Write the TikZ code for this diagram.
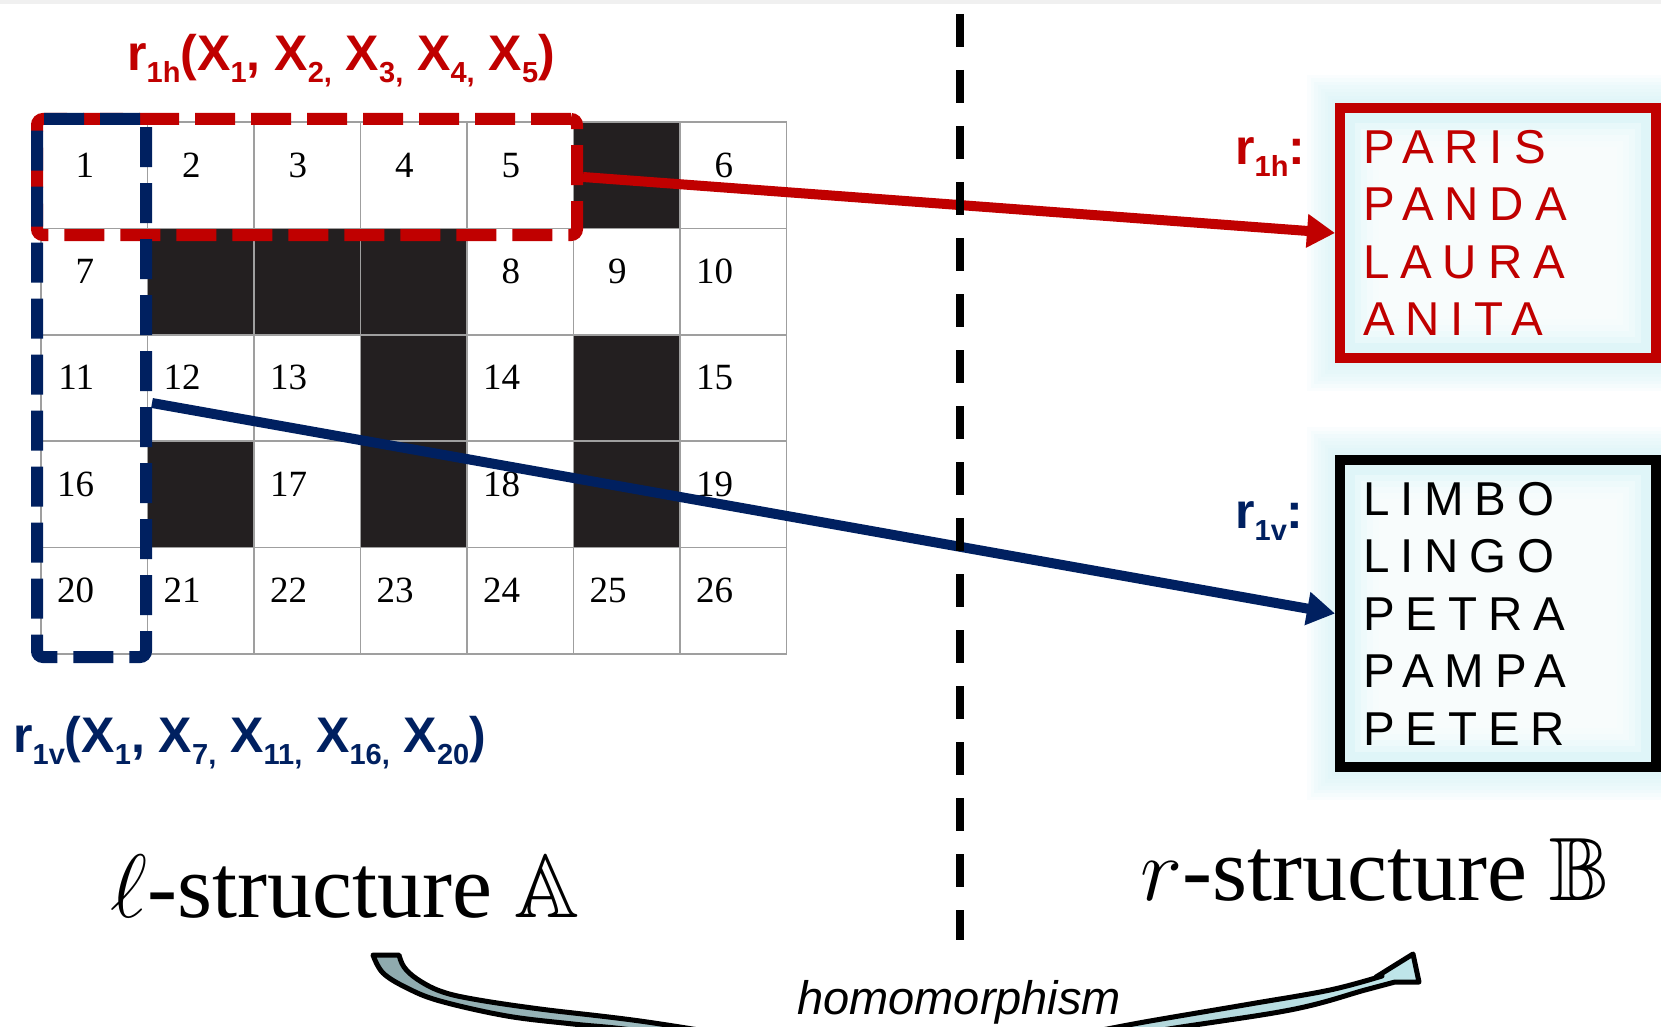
\documentclass[tikz,border=0pt]{standalone}
\usepackage{fontspec}
\setmainfont{Liberation Serif}
\setsansfont{Liberation Sans}
\newfontfamily\wordfont[LetterSpace=23]{Liberation Sans}
\usepackage{amssymb}
\usepackage{anyfontsize}
\definecolor{rowred}{HTML}{C00000}
\definecolor{colblue}{HTML}{002060}
\definecolor{cellblack}{HTML}{231F20}
\definecolor{glowcyan}{HTML}{CDEFF4}
\definecolor{bandgray}{HTML}{8EA9AD}
\definecolor{bandcyan}{HTML}{BFE6EA}
\usetikzlibrary{positioning, calc, backgrounds, arrows.meta}
\newcommand{\lowsub}[1]{\raisebox{-0.24em}{\fontsize{29}{29}\selectfont #1}}
\tikzset{
	gridline/.style={
			draw=gray!75,
			line width=1.5pt
		},
	blackcell/.style={
			fill=cellblack
		},
	numlabel/.style={
			font=\fontsize{37}{37}\selectfont,
			inner sep=0pt,
			anchor=base east
		},
	relname/.style={
			font=\sffamily\bfseries\fontsize{50}{50}\selectfont,
			inner sep=0pt,
			anchor=base west
		},
	rowpick/.style={
			draw=rowred,
			line width=12pt,
			dash pattern=on 40pt off 16pt,
			rounded corners=6pt
		},
	colpick/.style={
			rowpick,
			draw=colblue
		},
	relbox/.style={
			line width=10pt,
			text width=270pt,
			inner xsep=23pt,
			align=left,
			font=\wordfont\fontsize{47.5}{57.5}\selectfont
		},
	relarrow/.style={
			line width=10pt,
			-{Triangle[length=28pt, width=32pt]}
		},
	sepline/.style={
			draw=black,
			line width=8pt,
			dash pattern=on 33pt off 23pt
		},
	structlabel/.style={
			font=\fontsize{90}{90}\selectfont,
			inner sep=0pt,
			anchor=base west
		},
	homarrow/.style={
			draw=black,
			line width=5pt,
			line join=round,
			left color=bandgray,
			right color=bandcyan
		},
	homlabel/.style={
			font=\sffamily\itshape\fontsize{47}{47}\selectfont,
			inner sep=0pt,
			anchor=base west
		}
}

\begin{document}
\begin{tikzpicture}[x=1pt, y=-1pt]
\useasboundingbox (0,0) rectangle (1661,1027);
\fill[black!6] (0,0) rectangle (1661,4);

% crossword grid
\begin{scope}[shift={(41,122)}, x=106.5pt, y=-106.4pt]
\fill[blackcell] (5,0) rectangle (6,1);
\fill[blackcell] (1,1) rectangle (4,2);
\fill[blackcell] (3,2) rectangle (4,4);
\fill[blackcell] (5,2) rectangle (6,4);
\fill[blackcell] (1,3) rectangle (2,4);
\foreach \k in {0,...,7} \draw[gridline] (\k,0) -- (\k,5);
\foreach \k in {0,...,5} \draw[gridline] (0,\k) -- (7,\k);

\node[numlabel] (c1) at (0.5,0.517) {1};
\node[numlabel] (c2) at (1.5,0.517) {2};
\node[numlabel] (c3) at (2.5,0.517) {3};
\node[numlabel] (c4) at (3.5,0.517) {4};
\node[numlabel] (c5) at (4.5,0.517) {5};
\node[numlabel] (c6) at (6.5,0.517) {6};
\node[numlabel] (c7) at (0.5,1.517) {7};
\node[numlabel] (c8) at (4.5,1.517) {8};
\node[numlabel] (c9) at (5.5,1.517) {9};
\node[numlabel] (c10) at (6.5,1.517) {10};
\node[numlabel] (c11) at (0.5,2.517) {11};
\node[numlabel] (c12) at (1.5,2.517) {12};
\node[numlabel] (c13) at (2.5,2.517) {13};
\node[numlabel] (c14) at (4.5,2.517) {14};
\node[numlabel] (c15) at (6.5,2.517) {15};
\node[numlabel] (c16) at (0.5,3.517) {16};
\node[numlabel] (c17) at (2.5,3.517) {17};
\node[numlabel] (c18) at (4.5,3.517) {18};
\node[numlabel] (c19) at (6.5,3.517) {19};
\node[numlabel] (c20) at (0.5,4.517) {20};
\node[numlabel] (c21) at (1.5,4.517) {21};
\node[numlabel] (c22) at (2.5,4.517) {22};
\node[numlabel] (c23) at (3.5,4.517) {23};
\node[numlabel] (c24) at (4.5,4.517) {24};
\node[numlabel] (c25) at (5.5,4.517) {25};
\node[numlabel] (c26) at (6.5,4.517) {26};
\end{scope}

\node[rowpick, minimum width=540pt, minimum height=116pt] (rh) at (307,177) {};
\node[colpick, minimum width=109pt, minimum height=538pt] (rv) at (91.5,388) {};

\node[relname, text=rowred] (rhname) at (127,71) {r\lowsub{1h}(X\lowsub{1}, X\lowsub{2,} X\lowsub{3,} X\lowsub{4,} X\lowsub{5})};
\node[relname, text=colblue] (rvname) at (13,752) {r\lowsub{1v}(X\lowsub{1}, X\lowsub{7,} X\lowsub{11,} X\lowsub{16,} X\lowsub{20})};

% word lists
\node[relbox, draw=rowred, text=rowred, minimum height=250pt] (hw) at (1498,233) {PARIS\\PANDA\\LAURA\\ANITA};
\node[relbox, draw=black, text=black, minimum height=307pt] (vw) at (1498,613.5) {LIMBO\\LINGO\\PETRA\\PAMPA\\PETER};
\node[relname, text=rowred] (hlabel) at (1235,165) {r\lowsub{1h}:};
\node[relname, text=colblue] (vlabel) at (1235,528) {r\lowsub{1v}:};

\begin{scope}[on background layer]
\foreach \g in {1,...,8} {
	\fill[glowcyan, opacity=0.11] ($(hw.north west)+(-\g*3.5,-\g*3.5)$) rectangle ($(hw.south east)+(\g*3.5,\g*3.5)$);
	\fill[glowcyan, opacity=0.11] ($(vw.north west)+(-\g*3.5,-\g*3.5)$) rectangle ($(vw.south east)+(\g*3.5,\g*3.5)$);
}
\fill[glowcyan!65] (hw.north west) rectangle (hw.south east);
\fill[glowcyan!65] (vw.north west) rectangle (vw.south east);
\foreach \g in {1,...,5} {
	\fill[white, opacity=0.3] ($(hw.north west)+(14+\g*6,14+\g*6)$) rectangle ($(hw.south east)-(14+\g*6,14+\g*6)$);
	\fill[white, opacity=0.3] ($(vw.north west)+(14+\g*6,14+\g*6)$) rectangle ($(vw.south east)-(14+\g*6,14+\g*6)$);
}
\end{scope}

\draw[relarrow, rowred] (rh.east) -- (hw.west);
\draw[relarrow, colblue] ([yshift=-15pt]rv.east) -- (vw.west);

\coordinate (septop) at (960,14);
\coordinate (sepbot) at (960,940);
\draw[sepline] (septop) -- (sepbot);

\node[structlabel] (lstruct) at (110,917) {$\ell$-structure $\mathbb{A}$};
\node[structlabel] (rstruct) at (1140,900) {$r$-structure $\mathbb{B}$};

\draw[homarrow] plot[smooth, tension=0.6] coordinates {(373,955) (383,973) (407,988) (440,1001) (507,1016) (573,1024) (640,1031) (780,1052) (900,1064) (1020,1056) (1150,1032) (1290,1010) (1365,990) (1395,982)}
	-- (1419,982) -- (1413,954) -- (1376,977)
	-- plot[smooth, tension=0.6] coordinates {(1382,976) (1330,990) (1250,1004) (1150,1021) (1020,1044) (900,1053) (780,1042) (640,1021) (540,1009) (473,999) (440,991) (417,979) (404,967) (399,955)} -- cycle;
\node[homlabel] (homtext) at (797,1014) {homomorphism};
\end{tikzpicture}
\end{document}
